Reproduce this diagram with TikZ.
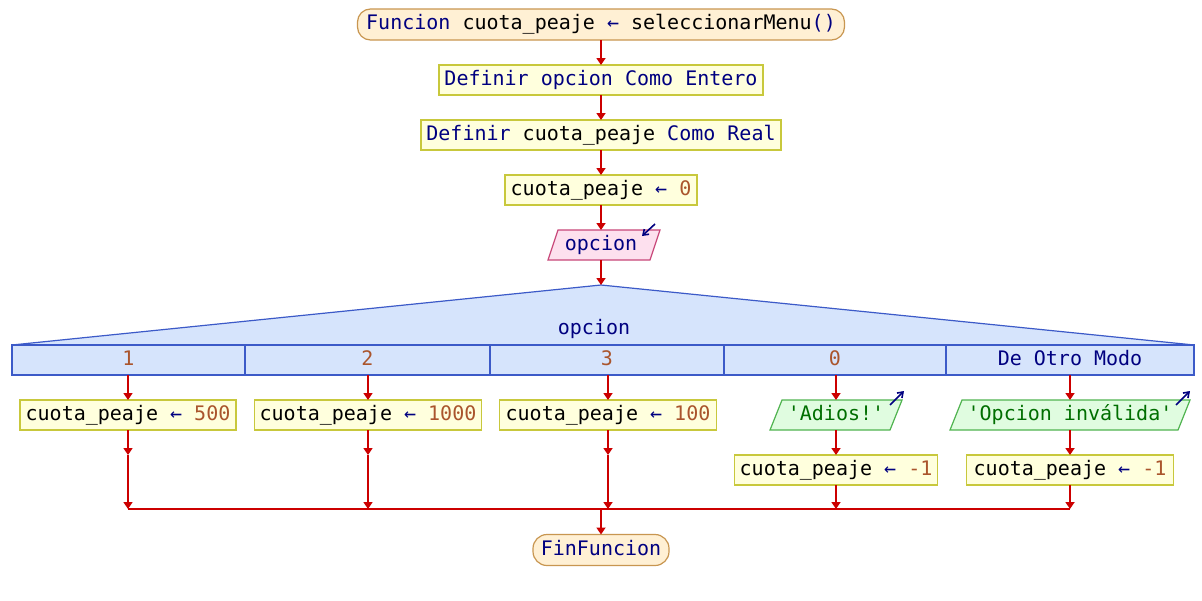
\documentclass[tikz,border=0pt]{standalone}
\usepackage{fontspec}
\setmonofont{DejaVu Sans Mono}
\usetikzlibrary{arrows.meta,calc}
\definecolor{kwcol}{RGB}{0,0,128}
\definecolor{numcol}{RGB}{170,85,45}
\definecolor{strcol}{RGB}{0,110,0}
\definecolor{rectfill}{RGB}{255,255,221}
\definecolor{rectdraw}{RGB}{200,200,60}
\definecolor{termfill}{RGB}{255,240,212}
\definecolor{termdraw}{RGB}{200,150,80}
\definecolor{infill}{RGB}{253,224,238}
\definecolor{indraw}{RGB}{200,70,120}
\definecolor{outfill}{RGB}{224,252,224}
\definecolor{outdraw}{RGB}{80,180,80}
\definecolor{casefill}{RGB}{214,228,252}
\definecolor{casedraw}{RGB}{60,90,200}
\definecolor{flowcol}{RGB}{204,0,0}
\newcommand{\kwc}[1]{\textcolor{kwcol}{#1}}
\newcommand{\numc}[1]{\textcolor{numcol}{#1}}
\newcommand{\strc}[1]{\textcolor{strcol}{#1}}
\begin{document}
\begin{tikzpicture}[x=1pt,y=-1pt,
  font=\ttfamily\fontsize{20}{24}\selectfont,
  every node/.style={inner sep=0pt, outer sep=0pt, text height=14pt, text depth=4pt},
  procbox/.style={draw=rectdraw, fill=rectfill, line width=1.2pt, minimum height=30pt},
  termbox/.style={draw=termdraw, fill=termfill, line width=1.2pt, minimum height=31pt, rounded corners=13pt},
  iobox/.style={minimum height=30pt},
  casecell/.style={draw=casedraw, fill=casefill, line width=1.2pt, minimum height=30pt},
  flow/.style={draw=flowcol, line width=1.7pt, -{Triangle[length=7pt,width=9pt]}},
  joinline/.style={draw=flowcol, line width=2.6pt},
  ioarrow/.style={draw=kwcol, line width=1.6pt, -{Straight Barb[length=5pt,width=7pt]}}
]
\useasboundingbox[fill=white] (0,0) rectangle (1202,600);

% main column
\node[termbox, minimum width=487pt] (start) at (601,24.5) {\kwc{Funcion} cuota\_peaje \kwc{←} seleccionarMenu\kwc{()}};
\node[procbox, minimum width=324pt] (def1) at (601,80) {\kwc{Definir opcion Como Entero}};
\node[procbox, minimum width=360pt] (def2) at (601,135) {\kwc{Definir} cuota\_peaje \kwc{Como Real}};
\node[procbox, minimum width=192pt] (asg0) at (601,190) {cuota\_peaje \kwc{←} \numc{0}};

% input
\node[iobox, minimum width=102pt] (inp) at (609,245) {};
\filldraw[draw=indraw, fill=infill, line width=1.2pt]
  (inp.north west) -- (inp.north east) -- ($(inp.south east)+(-10,0)$) -- ($(inp.south west)+(-10,0)$) -- cycle;
\node (inptext) at (601,245) {\kwc{opcion}};
\coordinate (inA) at (655,224);
\coordinate (inB) at (642,236);
\draw[ioarrow] (inA) -- (inB);
\coordinate (inTop) at (601,230);
\coordinate (inBot) at (601,260);

% switch triangle and cases
\coordinate (apex) at (601,285);
\coordinate (bl) at (12,345);
\coordinate (br) at (1194,345);
\filldraw[draw=casedraw, fill=casefill, line width=1.2pt] (apex) -- (bl) -- (br) -- cycle;
\node (swlabel) at (594,329) {\kwc{opcion}};

\node[casecell, minimum width=233pt] (c1) at (128.5,360) {\numc{1}};
\node[casecell, minimum width=245pt] (c2) at (367.5,360) {\numc{2}};
\node[casecell, minimum width=234pt] (c3) at (607,360) {\numc{3}};
\node[casecell, minimum width=222pt] (c4) at (835,360) {\numc{0}};
\node[casecell, minimum width=248pt] (c5) at (1070,360) {\kwc{De Otro Modo}};

% case bodies, first row
\node[procbox, minimum width=216pt] (b1) at (128,415) {cuota\_peaje \kwc{←} \numc{500}};
\node[procbox, minimum width=227pt] (b2) at (368,415) {cuota\_peaje \kwc{←} \numc{1000}};
\node[procbox, minimum width=217pt] (b3) at (608,415) {cuota\_peaje \kwc{←} \numc{100}};

\node[iobox, minimum width=120pt] (o4) at (842,415) {};
\filldraw[draw=outdraw, fill=outfill, line width=1.2pt]
  (o4.north west) -- (o4.north east) -- ($(o4.south east)+(-12,0)$) -- ($(o4.south west)+(-12,0)$) -- cycle;
\node (o4text) at (836,415) {\strc{'Adios!'}};
\coordinate (o4A) at (890,405);
\coordinate (o4B) at (904,391);
\draw[ioarrow] (o4A) -- (o4B);

\node[iobox, minimum width=228pt] (o5) at (1076,415) {};
\filldraw[draw=outdraw, fill=outfill, line width=1.2pt]
  (o5.north west) -- (o5.north east) -- ($(o5.south east)+(-12,0)$) -- ($(o5.south west)+(-12,0)$) -- cycle;
\node (o5text) at (1070,415) {\strc{'Opcion inválida'}};
\coordinate (o5A) at (1176,405);
\coordinate (o5B) at (1190,391);
\draw[ioarrow] (o5A) -- (o5B);

% second row
\node[procbox, minimum width=203pt] (d4) at (836,470) {cuota\_peaje \kwc{←} \numc{-1}};
\node[procbox, minimum width=207pt] (d5) at (1070,470) {cuota\_peaje \kwc{←} \numc{-1}};

% end
\node[termbox, minimum width=136pt, rounded corners=14pt] (fin) at (601,550) {\kwc{FinFuncion}};

% connectors main column
\draw[flow] (start.south) -- (def1.north);
\draw[flow] (def1.south) -- (def2.north);
\draw[flow] (def2.south) -- (asg0.north);
\draw[flow] (asg0.south) -- (inTop);
\draw[flow] (inBot) -- (apex);

% case connectors
\coordinate (o4n) at (836,400);
\coordinate (o4s) at (836,430);
\coordinate (o5n) at (1070,400);
\coordinate (o5s) at (1070,430);
\draw[flow] (b1.north |- c1.south) -- (b1.north);
\draw[flow] (b2.north |- c2.south) -- (b2.north);
\draw[flow] (b3.north |- c3.south) -- (b3.north);
\draw[flow] (o4n |- c4.south) -- (o4n);
\draw[flow] (o5n |- c5.south) -- (o5n);
\draw[flow] (o4s) -- (d4.north);
\draw[flow] (o5s) -- (d5.north);

% column joins
\coordinate (m1) at (128,455);
\coordinate (m2) at (368,455);
\coordinate (m3) at (608,455);
\coordinate (j1) at (128,509);
\coordinate (j2) at (368,509);
\coordinate (j3) at (608,509);
\coordinate (j4) at (836,509);
\coordinate (j5) at (1070,509);
\coordinate (jm) at (601,509);
\draw[flow] (b1.south) -- (m1);
\draw[flow] (b2.south) -- (m2);
\draw[flow] (b3.south) -- (m3);
\draw[flow] (m1) -- (j1);
\draw[flow] (m2) -- (j2);
\draw[flow] (m3) -- (j3);
\draw[flow] (d4.south) -- (j4);
\draw[flow] (d5.south) -- (j5);
\draw[joinline] (j1) -- (j5);
\draw[flow] (jm) -- (fin.north);
\end{tikzpicture}
\end{document}
